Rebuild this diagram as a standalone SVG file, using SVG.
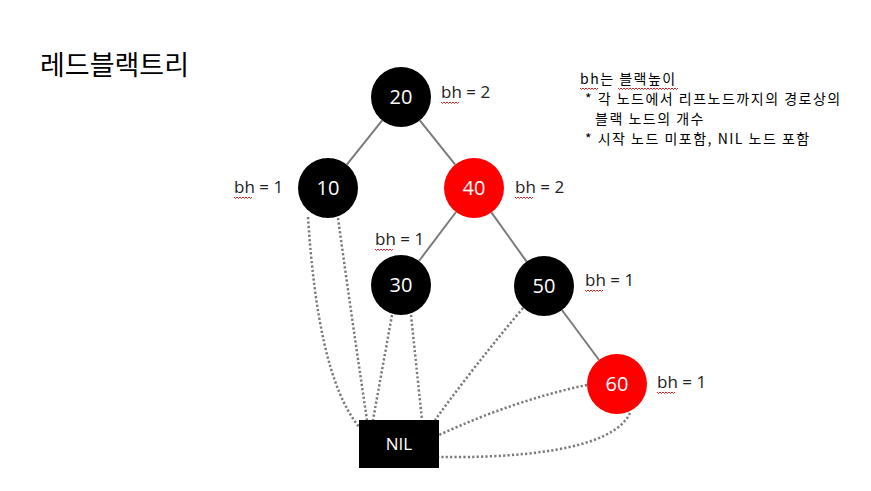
<svg xmlns="http://www.w3.org/2000/svg" xmlns:xlink="http://www.w3.org/1999/xlink" width="871" height="491" viewBox="0 0 871 491">
<style>
.edge{stroke:#7a7a7a;stroke-width:2;fill:none}
.dot{stroke:#7a7a7a;stroke-width:2.5;fill:none;stroke-dasharray:2.2 2.2}
.blk{fill:#000}
.red{fill:#ff0000}
.lbl{font-family:"Open Sans","Noto Sans",sans-serif;font-size:20px;fill:#fff;text-anchor:middle}
.bh{font-family:"Open Sans","Noto Sans",sans-serif;font-size:17px;fill:#222}
.kr{font-family:"Noto Sans CJK KR",sans-serif;fill:#000}
.sq{stroke:#e02020;stroke-width:1;fill:none}
</style>
<defs>
<path id="squig" class="sq" d="M0,0 l1.5,1.5 l1.5,-1.5 l1.5,1.5 l1.5,-1.5 l1.5,1.5 l1.5,-1.5 l1.5,1.5 l1.5,-1.5 l1.5,1.5 l1.5,-1.5 l1.5,1.5 l1.5,-1.5"/>
<path id="squig2" class="sq" d="M0,0 l1.5,1.5 l1.5,-1.5 l1.5,1.5 l1.5,-1.5 l1.5,1.5 l1.5,-1.5 l1.5,1.5 l1.5,-1.5 l1.5,1.5 l1.5,-1.5 l1.5,1.5 l1.5,-1.5 l1.5,1.5 l1.5,-1.5 l1.5,1.5 l1.5,-1.5 l1.5,1.5 l1.5,-1.5 l1.5,1.5 l1.5,-1.5 l1.5,1.5 l1.5,-1.5 l1.5,1.5 l1.5,-1.5 l1.5,1.5 l1.5,-1.5 l1.5,1.5 l1.5,-1.5 l1.5,1.5 l1.5,-1.5 l1.5,1.5 l1.5,-1.5 l1.5,1.5 l1.5,-1.5 l1.5,1.5 l1.5,-1.5 l1.5,1.5 l1.5,-1.5 l1.5,1.5 l1.5,-1.5"/>
</defs>
<rect width="871" height="491" fill="#fff"/>
<text class="kr" x="40" y="75" font-size="27">레드블랙트리</text>
<g id="note" class="kr" font-size="14" letter-spacing="1.5">
<text x="580" y="84">bh는 블랙높이</text>
<text x="585" y="104">* 각 노드에서 리프노드까지의 경로상의</text>
<text x="595" y="124">블랙 노드의 개수</text>
<text x="585" y="144">* 시작 노드 미포함, NIL 노드 포함</text>
<use xlink:href="#squig" x="580" y="88"/>
<use xlink:href="#squig2" x="618" y="88"/>
</g>
<g id="connectors">
<line class="edge" x1="382.2" y1="120.4" x2="346.8" y2="164.6"/>
<line class="edge" x1="419.8" y1="120.4" x2="455.2" y2="164.6"/>
<line class="edge" x1="456" y1="212" x2="419" y2="261"/>
<line class="edge" x1="491.4" y1="212.4" x2="526.6" y2="261.6"/>
<line class="edge" x1="561.9" y1="310" x2="599.1" y2="360"/>
<path class="dot" d="M308,217 C314,310 328,390 360,428"/>
<path class="dot" d="M338,218 Q352,320 367,420"/>
<path class="dot" d="M392,315 L373,420"/>
<path class="dot" d="M411,315 L422,420"/>
<path class="dot" d="M523,308 Q475,365 435,420"/>
<path class="dot" d="M587,385 Q515,400 439,435"/>
<path class="dot" d="M630,413 C612,452 510,458 439,457"/>
</g>
<g id="n20"><circle class="blk" cx="401" cy="97" r="30"/><text class="lbl" x="401" y="104">20</text></g>
<g id="n10"><circle class="blk" cx="328" cy="188" r="30"/><text class="lbl" x="328" y="195">10</text></g>
<g id="n40"><circle class="red" cx="474" cy="188" r="30"/><text class="lbl" x="474" y="195">40</text></g>
<g id="n30"><circle class="blk" cx="401" cy="285" r="30"/><text class="lbl" x="401" y="292">30</text></g>
<g id="n50"><circle class="blk" cx="544" cy="286" r="30"/><text class="lbl" x="544" y="293">50</text></g>
<g id="n60"><circle class="red" cx="617" cy="384" r="30"/><text class="lbl" x="617" y="391">60</text></g>
<g id="nil"><rect class="blk" x="359" y="420" width="80" height="48"/><text class="lbl" x="399" y="450" style="font-size:17px">NIL</text></g>
<g id="bh-labels">
<text class="bh" x="441" y="98">bh = 2</text><use xlink:href="#squig" x="441" y="102"/>
<text class="bh" x="234" y="193">bh = 1</text><use xlink:href="#squig" x="234" y="197"/>
<text class="bh" x="515" y="193">bh = 2</text><use xlink:href="#squig" x="515" y="197"/>
<text class="bh" x="375" y="245">bh = 1</text><use xlink:href="#squig" x="375" y="249"/>
<text class="bh" x="585" y="286">bh = 1</text><use xlink:href="#squig" x="585" y="290"/>
<text class="bh" x="657" y="388">bh = 1</text><use xlink:href="#squig" x="657" y="392"/>
</g>
</svg>
